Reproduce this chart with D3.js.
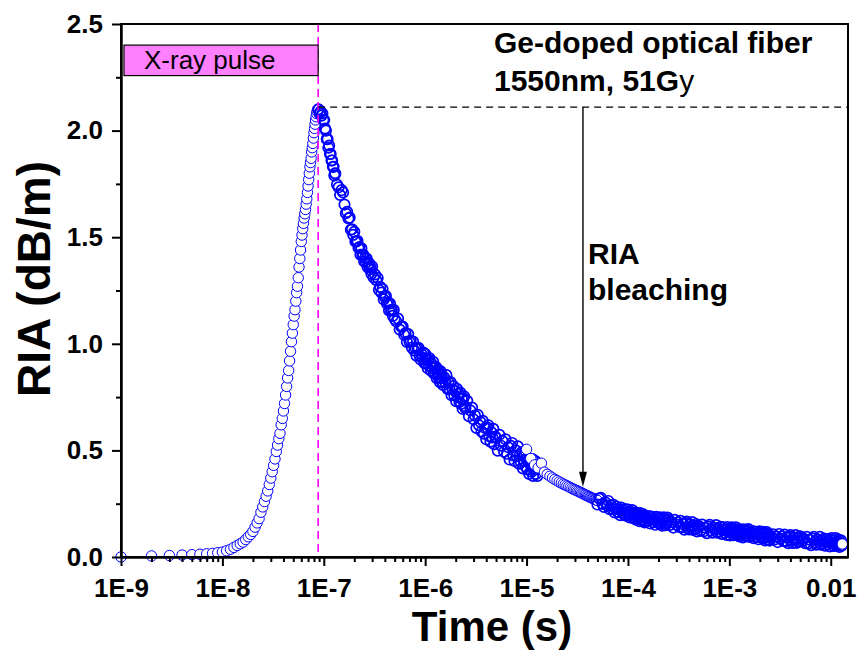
<!DOCTYPE html>
<html>
<head>
<meta charset="utf-8">
<script src="https://cdnjs.cloudflare.com/ajax/libs/d3/7.8.5/d3.min.js"></script>
<style>
  body { margin: 0; background: #fff; }
  #chart { width: 857px; height: 652px; }
  text { font-family: Arial, "Liberation Sans", sans-serif; }
</style>
</head>
<body>
<div id="chart"></div>
<script>

// ---- data (time in the unit given by the name, RIA in dB/m) ----

// rising edge, sampled every ns
var riseNs = [1,2,3,4,5,6,7,8,9,10,11,12,13,14,15,16,17,18,19,20,21,22,23,24,25,26,27,28,29,30,
  31,32,33,34,35,36,37,38,39,40,41,42,43,44,45,46,47,48,49,50,51,52,53,54,55,56,57,58,59,60,
  61,62,63,64,65,66,67,68,69,70,71,72,73,74,75,76,77,78,79,80,81,82,83,84,85,86,87,88];
var riseRIA = [0.00,0.005,0.007,0.009,0.011,0.013,0.015,0.017,0.02,0.023,
  0.029,0.036,0.045,0.054,0.062,0.07,0.082,0.095,0.106,0.12,
  0.14,0.16,0.18,0.21,0.235,0.26,0.285,0.31,0.34,0.37,
  0.40,0.43,0.46,0.495,0.525,0.555,0.58,0.62,0.65,0.685,
  0.72,0.76,0.80,0.84,0.875,0.92,0.965,1.01,1.05,1.09,
  1.13,1.16,1.20,1.24,1.27,1.31,1.36,1.40,1.44,1.48,
  1.51,1.54,1.565,1.59,1.61,1.63,1.655,1.68,1.71,1.74,
  1.77,1.80,1.83,1.85,1.87,1.90,1.92,1.94,1.965,1.99,
  2.01,2.03,2.05,2.065,2.08,2.09,2.10,2.10];

// decay after the peak, up to 1 us
var peakNs = [89,91,93,95,97,99,101,103,105,107,109,111,113,115,117,119,121,123,125,127,129,
  130,135,140,145,150,155,160,165,170,175,180,185,190,195,200,205,210,215,220,225,230,235,240,245,250,255,260,265,270,275,280,285,290,295,300,
  310,320,330,340,350,360,370,380,390,400,410,420,430,440,450,460,470,480,490,500,
  520,540,560,580,600,620,640,660,680,700,720,740,760,780,800,820,840,860,880,900,920,940,960,980,1000];
var peakRIA = [2.10,2.08,2.09,2.07,2.08,2.05,2.05,2.01,2.00,1.96,1.96,1.92,1.93,1.89,1.89,1.86,1.86,1.83,1.83,1.79,1.80,
  1.798,1.747,1.734,1.698,1.721,1.71,1.653,1.612,1.619,1.588,1.592,1.535,1.537,1.511,1.525,1.48,1.48,1.483,1.449,1.454,
  1.418,1.448,1.416,1.419,1.387,1.402,1.381,1.40,1.36,1.37,1.378,1.349,1.359,1.328,1.363,
  1.311,1.325,1.298,1.309,1.253,1.267,1.24,1.257,1.208,1.22,1.224,1.188,1.195,1.156,1.189,1.155,1.16,1.131,1.159,1.116,
  1.105,1.118,1.067,1.08,1.081,1.042,1.05,1.009,1.046,1.01,1.015,0.982,1.011,0.969,0.98,0.944,0.978,0.981,0.944,0.926,
  0.952,0.934,0.959,0.91,0.931];

// mantissas of the sample times inside one decade
var mant = [1.00,1.02,1.04,1.06,1.08,1.10,1.12,1.14,1.16,1.18,1.20,1.22,1.24,1.26,1.28,1.30,1.32,1.34,1.36,1.38,1.40,1.42,1.44,1.46,1.48,
  1.50,1.54,1.58,1.62,1.66,1.70,1.74,1.78,1.82,1.86,1.90,1.94,1.98,2.02,2.06,2.10,2.14,2.18,2.22,2.26,2.30,2.34,2.38,2.42,2.46,
  2.5,2.6,2.7,2.8,2.9,3.0,3.1,3.2,3.3,3.4,3.5,3.6,3.7,3.8,3.9,4.0,4.1,4.2,4.3,4.4,4.5,4.6,4.7,4.8,4.9,
  5.0,5.2,5.4,5.6,5.8,6.0,6.2,6.4,6.6,6.8,7.0,7.2,7.4,7.6,7.8,8.0,8.2,8.4,8.6,8.8,9.0,9.2,9.4,9.6,9.8];

// 1 us .. 10 us  (mant x 1e-6)
var riaMicro = [0.953,0.906,0.926,0.885,0.926,0.933,0.893,0.874,0.906,0.887,0.916,0.861,0.887,0.862,0.891,0.839,0.863,0.878,0.842,0.859,0.82,0.871,0.838,0.853,0.82,
  0.807,0.843,0.819,0.853,0.788,0.818,0.787,0.821,0.759,0.786,0.802,0.758,0.778,0.731,0.789,0.75,0.766,0.727,0.771,0.718,0.741,0.695,0.744,0.754,0.707,
  0.698,0.733,0.66,0.687,0.701,0.646,0.663,0.605,0.667,0.618,0.634,0.589,0.639,0.578,0.605,0.552,0.607,0.618,0.566,0.541,0.585,0.561,0.601,0.529,0.565,
  0.559,0.499,0.573,0.522,0.544,0.494,0.552,0.484,0.515,0.457,0.521,0.535,0.476,0.45,0.50,0.473,0.519,0.438,0.48,0.445,0.492,0.415,0.453,0.477,0.424];
// 10 us .. 13 us (mant[0..15] x 1e-5)
var riaTenMicroA = [0.46,0.41,0.45,0.39,0.44,0.43,0.40,0.46,0.38,0.43,0.41,0.45,0.39,0.42,0.38,0.41];

// second record, 1 us steps
var sparseUs = [10,11,12,13,14,15,16,17,18,19,20,21,22,23,24,25,26,27,28,29,30,
  31,32,33,34,35,36,37,38,39,40,41,42,43,44,45,46,47,48,49,50];
var sparseRIA = [0.505,0.462,0.432,0.418,0.44,0.398,0.388,0.379,0.371,0.364,
  0.358,0.352,0.347,0.342,0.338,0.334,0.33,0.326,0.322,0.318,
  0.315,0.312,0.309,0.306,0.303,0.30,0.297,0.294,0.291,0.289,
  0.286,0.284,0.281,0.279,0.277,0.275,0.273,0.271,0.269,0.267,0.265];

// 50 us .. 100 us (mant[75..99] x 1e-5)
var riaTenMicroB = [0.246,0.274,0.278,0.249,0.235,0.256,0.243,0.263,0.224,0.242,0.225,0.245,0.209,0.225,0.236,0.21,0.223,0.196,0.232,0.209,0.22,0.197,0.225,0.194,0.209];
// 100 us .. 1 ms (mant x 1e-4)
var riaHundredMicro = [0.223,0.197,0.185,0.209,0.198,0.22,0.183,0.203,0.188,0.21,0.175,0.193,0.205,0.18,0.194,0.168,0.206,0.184,0.195,0.173,0.202,0.172,0.188,0.162,0.193,
  0.166,0.186,0.17,0.192,0.157,0.175,0.188,0.163,0.177,0.151,0.189,0.167,0.179,0.157,0.186,0.156,0.172,0.147,0.178,0.186,0.16,0.149,0.173,0.162,0.185,
  0.176,0.15,0.164,0.138,0.174,0.152,0.163,0.141,0.17,0.139,0.154,0.128,0.159,0.166,0.141,0.129,0.153,0.142,0.164,0.127,0.147,0.133,0.155,0.12,0.138,
  0.145,0.123,0.152,0.121,0.138,0.112,0.143,0.151,0.125,0.114,0.138,0.128,0.15,0.114,0.134,0.12,0.142,0.108,0.126,0.139,0.114,0.129,0.103,0.141,0.119];
// 1 ms .. 10 ms (mant x 1e-3)
var riaMilli = [0.126,0.101,0.132,0.139,0.114,0.102,0.127,0.116,0.139,0.102,0.123,0.108,0.131,0.096,0.115,0.128,0.103,0.118,0.092,0.13,0.109,0.12,0.099,0.128,0.098,
  0.109,0.131,0.094,0.115,0.1,0.122,0.088,0.106,0.118,0.094,0.108,0.083,0.12,0.098,0.11,0.088,0.118,0.087,0.104,0.078,0.11,0.117,0.092,0.08,0.105,
  0.077,0.095,0.107,0.082,0.096,0.07,0.108,0.086,0.097,0.075,0.105,0.074,0.09,0.065,0.096,0.103,0.078,0.066,0.091,0.08,0.103,0.066,0.087,0.072,0.095,
  0.097,0.075,0.087,0.065,0.095,0.064,0.081,0.055,0.087,0.095,0.069,0.058,0.083,0.072,0.095,0.058,0.079,0.065,0.087,0.053,0.071,0.084,0.06,0.074,0.049];
// 10 ms .. 13 ms (mant[0..15] x 1e-2)
var riaTenMilli = [0.081,0.089,0.063,0.052,0.077,0.066,0.089,0.052,0.073,0.058,0.081,0.047,0.065,0.078,0.053,0.061];

// axes
var xTickValues = [1e-9,1e-8,1e-7,1e-6,1e-5,1e-4,1e-3,1e-2];
var xTickLabels = ["1E-9","1E-8","1E-7","1E-6","1E-5","1E-4","1E-3","0.01"];
var yTickValues = [0,0.5,1.0,1.5,2.0,2.5];
var yMinorValues = [0.25,0.75,1.25,1.75,2.25];

// annotations
var pulseStart = 1.07e-9, pulseEnd = 8.8e-8;
var pulseBox = [2.258, 2.401];
var peakLevel = 2.11;
var bleachTime = 3.6e-5, bleachEnd = 0.33;

// ---- chart ----

var margin, root, svg, width, height, xScale, yScale;

margin = {top: 24, right: 9, bottom: 95, left: 121};
width = 857 - (margin.left + margin.right);
height = 652 - (margin.top + margin.bottom);

root = d3.select("#chart").append("svg")
  .attr("width", 857)
  .attr("height", 652);

svg = root.append("g")
  .attr("transform", "translate(" + margin.left + "," + margin.top + ")");

xScale = d3.scaleLog().domain([1e-9, 1.48e-2]).range([0, width]);
yScale = d3.scaleLinear().domain([0, 2.5]).range([height, 0]);

// open = white filled marker; the dense records are so packed that only the rims show
var points = [];
riseNs.forEach(function(t, i){ points.push({t: t * 1e-9, v: riseRIA[i], open: true}); });
peakNs.forEach(function(t, i){ points.push({t: t * 1e-9, v: peakRIA[i], open: false}); });

function addDecade(values, exp, start){
  values.forEach(function(v, i){
    points.push({t: mant[start + i] * Math.pow(10, exp), v: v, open: false});
  });
}
addDecade(riaMicro, -6, 0);
addDecade(riaTenMicroA, -5, 0);
sparseUs.forEach(function(t, i){ points.push({t: t * 1e-6, v: sparseRIA[i], open: true}); });
addDecade(riaTenMicroB, -5, 75);
addDecade(riaHundredMicro, -4, 0);
addDecade(riaMilli, -3, 0);
addDecade(riaTenMilli, -2, 0);
points[points.length - 1].open = true;

// markers
svg.append("g")
  .selectAll("circle")
  .data(points)
  .enter()
  .append("circle")
  .attr("cx", function(d){ return xScale(d.t); })
  .attr("cy", function(d){ return yScale(d.v); })
  .attr("r", 5.2)
  .attr("fill", function(d){ return d.open ? "#fff" : "none"; })
  .attr("stroke", "#0000ff")
  .attr("stroke-width", function(d){ return d.open ? 1 : 1.7; });

// pulse end and peak level
svg.append("line")
  .attr("x1", xScale(pulseEnd)).attr("x2", xScale(pulseEnd))
  .attr("y1", 0).attr("y2", height)
  .attr("stroke", "#ff00ff")
  .attr("stroke-width", 1.6)
  .attr("stroke-dasharray", "8,5");

svg.append("line")
  .attr("x1", xScale(pulseEnd)).attr("x2", width)
  .attr("y1", yScale(peakLevel)).attr("y2", yScale(peakLevel))
  .attr("stroke", "#000")
  .attr("stroke-width", 1.3)
  .attr("stroke-dasharray", "7,5");

// bleaching arrow
var ax = xScale(bleachTime), tipY = yScale(bleachEnd);
svg.append("line")
  .attr("x1", ax).attr("x2", ax)
  .attr("y1", yScale(peakLevel)).attr("y2", tipY - 12)
  .attr("stroke", "#000")
  .attr("stroke-width", 1.4);
svg.append("path")
  .attr("d", "M" + (ax - 4) + "," + (tipY - 15) + "L" + (ax + 4) + "," + (tipY - 15) + "L" + ax + "," + tipY + "Z")
  .attr("fill", "#000");

// frame
svg.append("rect")
  .attr("width", width)
  .attr("height", height)
  .attr("fill", "none")
  .attr("stroke", "#000")
  .attr("stroke-width", 2);

// x axis
var xMinor = [];
for (var e = -9; e < -2; e++) {
  for (var m = 2; m <= 9; m++) xMinor.push(m * Math.pow(10, e));
}

svg.append("g")
  .attr("class", "x minor")
  .attr("transform", "translate(0," + height + ")")
  .call(d3.axisBottom(xScale).tickValues(xMinor).tickSize(5).tickSizeOuter(0).tickFormat(""));

svg.append("g")
  .attr("class", "x axis")
  .attr("transform", "translate(0," + height + ")")
  .call(d3.axisBottom(xScale)
    .tickValues(xTickValues)
    .tickFormat(function(d, i){ return xTickLabels[i]; })
    .tickSize(9).tickSizeOuter(0).tickPadding(13));

// y axis
svg.append("g")
  .attr("class", "y minor")
  .call(d3.axisLeft(yScale).tickValues(yMinorValues).tickSize(5).tickSizeOuter(0).tickFormat(""));

svg.append("g")
  .attr("class", "y axis")
  .call(d3.axisLeft(yScale)
    .tickValues(yTickValues)
    .tickFormat(d3.format(".1f"))
    .tickSize(9).tickSizeOuter(0).tickPadding(9));

svg.selectAll(".axis path, .minor path, .axis line, .minor line")
  .attr("stroke", "#000")
  .attr("stroke-width", 2);
svg.selectAll(".axis text")
  .attr("fill", "#000")
  .style("font-size", "26px")
  .style("font-weight", "bold")
  .style("font-family", "Arial, 'Liberation Sans', sans-serif");

// X-ray pulse box
svg.append("rect")
  .attr("x", xScale(pulseStart))
  .attr("y", yScale(pulseBox[1]))
  .attr("width", xScale(pulseEnd) - xScale(pulseStart))
  .attr("height", yScale(pulseBox[0]) - yScale(pulseBox[1]))
  .attr("fill", "#ff80ff")
  .attr("stroke", "#000")
  .attr("stroke-width", 1.2);

svg.append("text")
  .attr("x", xScale(pulseStart) + 20)
  .attr("y", yScale(pulseBox[0]) - 7)
  .style("font-size", "26px")
  .text("X-ray pulse");

// labels
var fiber = root.append("g")
  .style("font-size", "30px")
  .style("font-weight", "bold");

fiber.append("text").attr("x", 494).attr("y", 53).text("Ge-doped optical fiber");
var dose = fiber.append("text").attr("x", 494).attr("y", 91);
dose.append("tspan").text("1550nm, 51G");
dose.append("tspan").style("font-weight", "normal").text("y");

fiber.append("text").attr("x", 588).attr("y", 264).text("RIA");
fiber.append("text").attr("x", 588).attr("y", 300).text("bleaching");

root.append("text")
  .attr("x", 492)
  .attr("y", 641)
  .attr("text-anchor", "middle")
  .style("font-size", "42px")
  .style("font-weight", "bold")
  .text("Time (s)");

root.append("text")
  .attr("transform", "translate(50,279) rotate(-90)")
  .attr("text-anchor", "middle")
  .style("font-size", "46px")
  .style("font-weight", "bold")
  .text("RIA (dB/m)");

</script>
</body>
</html>
